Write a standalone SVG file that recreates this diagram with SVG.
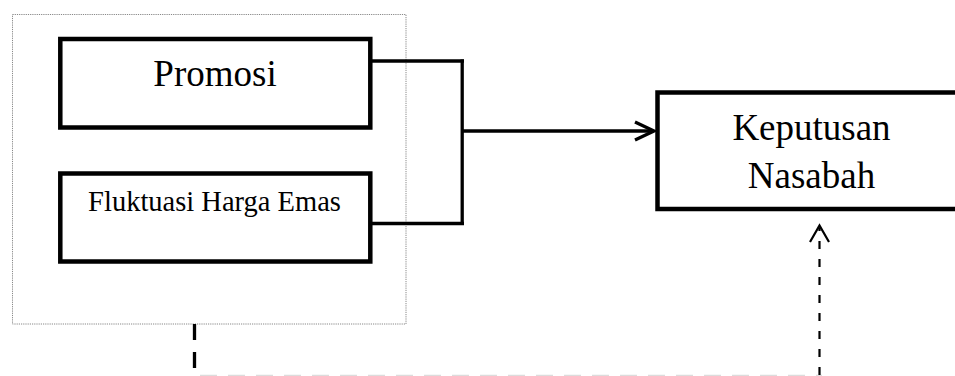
<svg xmlns="http://www.w3.org/2000/svg" width="955" height="376" viewBox="0 0 955 376">
<style>
.box{fill:#fff;stroke:#000;stroke-width:4.5}
.t{font-family:"Liberation Serif","Times New Roman",serif;fill:#000;text-anchor:middle}
.ln{fill:none;stroke:#000;stroke-width:3.3}
</style>
<rect width="955" height="376" fill="#fff"/>
<g id="group-frame">
<rect x="12.5" y="14.5" width="393.5" height="309.5" fill="none" stroke="#888" stroke-width="1" stroke-dasharray="1.2 1"/>
</g>
<g id="node-promosi">
<rect class="box" x="60.3" y="39" width="310" height="88.5"/>
<text class="t" x="215" y="86" font-size="37">Promosi</text>
</g>
<g id="node-fluktuasi">
<rect class="box" x="60.3" y="173.5" width="310" height="88"/>
<text class="t" x="214.5" y="211" font-size="28.5">Fluktuasi Harga Emas</text>
</g>
<g id="node-keputusan">
<rect class="box" x="657.5" y="92.5" width="310" height="116.5"/>
<text class="t" x="811.5" y="140" font-size="37">Keputusan</text>
<text class="t" x="811.5" y="188" font-size="37">Nasabah</text>
</g>
<g id="connectors">
<polyline class="ln" points="372,61 464,61"/>
<polyline class="ln" points="372,223.5 464,223.5"/>
<line class="ln" x1="462.2" y1="59.5" x2="462.2" y2="225"/>
<line class="ln" x1="462" y1="131" x2="653" y2="131"/>
<polyline class="ln" points="635,122 654,131 635,140" stroke-linejoin="miter"/>
<line x1="194.5" y1="324" x2="194.5" y2="376" stroke="#000" stroke-width="3.3" stroke-dasharray="16 12"/>
<line x1="200" y1="375.5" x2="822" y2="375.5" stroke="#dcdcdc" stroke-width="1.5" stroke-dasharray="17 11"/>
<line x1="819.5" y1="376" x2="819.5" y2="228" stroke="#000" stroke-width="2.2" stroke-dasharray="8 10" stroke-dashoffset="-1"/>
<polyline points="810,242 819.5,225.5 829,242" fill="none" stroke="#000" stroke-width="2.2"/>
</g>
</svg>
